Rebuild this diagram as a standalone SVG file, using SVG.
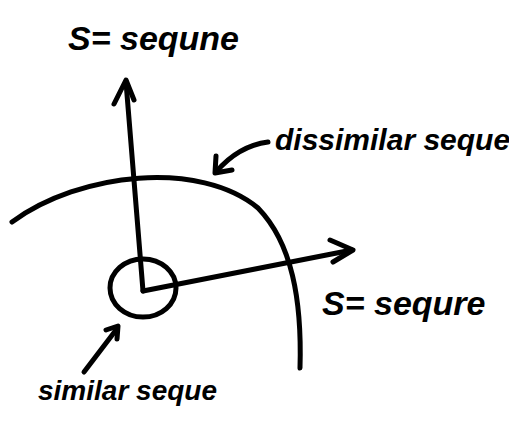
<svg xmlns="http://www.w3.org/2000/svg" width="509" height="423" viewBox="0 0 509 423">
<style>
.ln{fill:none;stroke:#000;stroke-width:5;stroke-linecap:round;stroke-linejoin:round}
.ah{fill:none;stroke:#000;stroke-width:5;stroke-linecap:round;stroke-linejoin:round}
.t{font-family:"Liberation Sans",Arial,sans-serif;font-style:italic;font-weight:bold;fill:#000}
</style>
<rect width="509" height="423" fill="#fff"/>
<g id="connectors">
<path class="ln" d="M143,291 L126,82"/>
<path class="ah" d="M114,104 L126,80 L134,100"/>
<path class="ln" d="M143,291 L352,250"/>
<path class="ah" d="M330,240 L353,250 L333,262"/>
<path class="ln" d="M12,222 C80,172 200,160 258,208 C292,243 302,300 300,368"/>
<path class="ln" d="M268,142 C245,145 228,158 216,172"/>
<path class="ah" d="M216,156 L215,173 L232,170"/>
<path class="ln" d="M84,372 L116,330"/>
<path class="ah" d="M106,330 L118,326 L117,339"/>
</g>
<g id="origin-circle">
<ellipse class="ln" cx="143" cy="288" rx="33" ry="29"/>
</g>
<g id="label-top">
<text class="t" x="68" y="50" font-size="34">S= sequne</text>
</g>
<g id="label-dissimilar">
<text class="t" x="275" y="150" font-size="30">dissimilar seque</text>
</g>
<g id="label-right">
<text class="t" x="322" y="315" font-size="34">S= sequre</text>
</g>
<g id="label-similar">
<text class="t" x="38" y="400" font-size="28">similar seque</text>
</g>
</svg>
